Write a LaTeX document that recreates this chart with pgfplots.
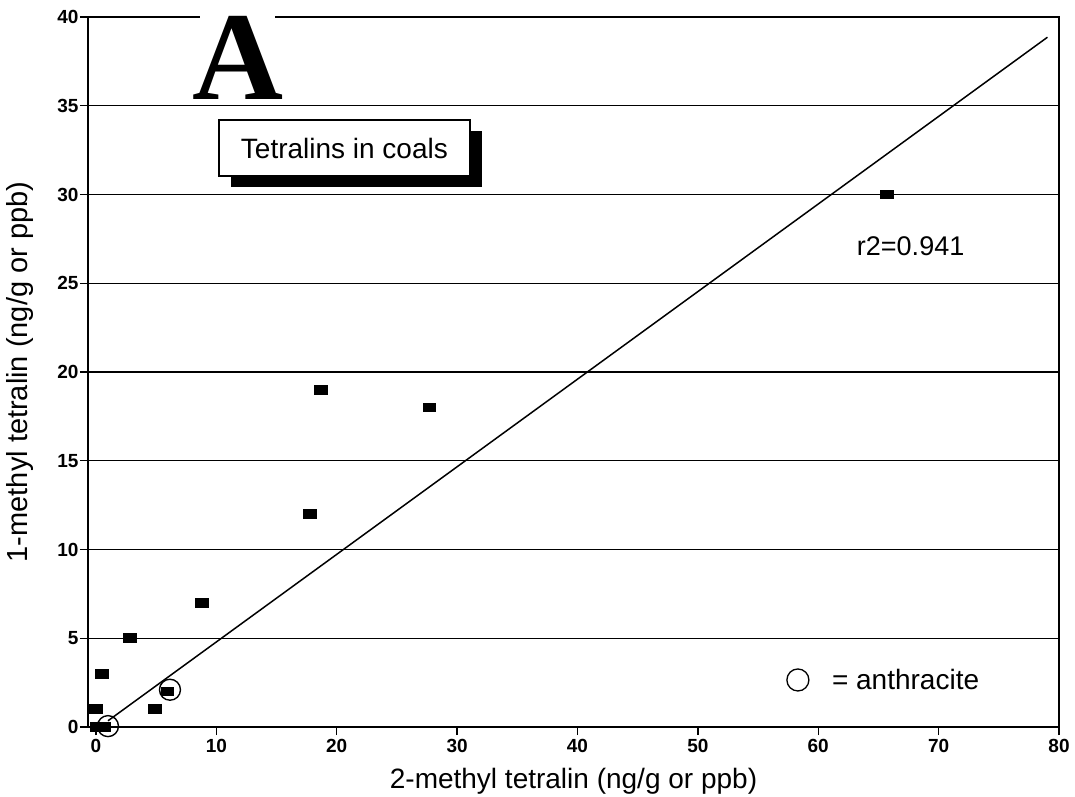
\documentclass[border=0pt]{standalone}
\usepackage{fontspec}
\setmainfont{Liberation Sans}
\newfontfamily\serifA{Liberation Serif}
\usepackage{pgfplots}
\pgfplotsset{compat=1.18}
\usetikzlibrary{shadows}

\begin{document}
\begin{tikzpicture}
\begin{axis}[
  at={(0,0)}, anchor=south west,
  scale only axis, width=971pt, height=710pt,
  xmin=-0.66, xmax=80, ymin=0, ymax=40,
  xtick={0,10,...,80}, ytick={0,5,...,40},
  tick pos=left, tick align=outside,
  major tick length=8pt,
  every tick/.style={black, line width=1.4pt},
  axis line style={line width=2pt},
  ymajorgrids, grid style={black, line width=1.4pt},
  xticklabel={\fontsize{19}{21}\selectfont\bfseries\pgfmathprintnumber[assume math mode=true]{\tick}},
  yticklabel={\fontsize{19}{21}\selectfont\bfseries\pgfmathprintnumber[assume math mode=true]{\tick}},
  yticklabel style={xshift=2pt},
  xticklabel style={yshift=-1pt},
  xlabel={2-methyl tetralin (ng/g or ppb)},
  ylabel={1-methyl tetralin (ng/g or ppb)},
  xlabel style={font=\fontsize{28}{28}\selectfont, at={(axis description cs:0.5,-0.0873)}, anchor=base},
  ylabel style={font=\fontsize{29}{29}\selectfont, at={(axis description cs:-0.0628,0.5)}, anchor=base},
  clip=false,
]
% regression line
\addplot[black, line width=1.5pt] coordinates {(1.0,0.35) (79.04,38.86)};
% samples
\addplot[only marks, mark=square*, mark size=4.3pt,
  mark options={xscale=1.48, fill=black, draw=black, line width=0pt}]
  coordinates {
  (0.1,0) (0.7,0) (0,1) (0.5,3) (2.8,5) (4.9,1) (5.95,2) (8.8,7)
  (17.8,12) (18.7,19) (27.7,18) (65.7,30)
};
% anthracite circles
\addplot[only marks, mark=o, mark size=10.5pt,
  mark options={line width=1.4pt, draw=black}]
  coordinates {(1.0,0.05) (6.15,2.1)};

\node[draw, fill=white, line width=1.8pt, minimum width=251pt, minimum height=56pt,
  inner sep=0pt, font=\fontsize{28}{28}\selectfont,
  drop shadow={shadow xshift=12pt, shadow yshift=-11pt, fill=black, opacity=1}]
  at (axis cs:20.64,32.62) {Tetralins in coals};
\node[anchor=base west, inner sep=0pt, font=\fontsize{27}{27}\selectfont]
  at (axis cs:63.2,26.54) {r2=0.941};
\node[circle, draw, line width=1.3pt, minimum size=22pt, inner sep=0pt]
  at (axis cs:58.31,2.65) {};
\node[anchor=base west, inner sep=0pt, font=\fontsize{28}{28}\selectfont]
  at (axis cs:61.13,2.085) {= anthracite};

\coordinate (gL) at (axis cs:8.64,40);
\coordinate (gR) at (axis cs:14.87,40);
\coordinate (Apos) at (axis cs:11.83,35.35);
\end{axis}
\fill[white] ([yshift=-2.5pt]gL) rectangle ([yshift=2.5pt]gR);
\node[anchor=base, inner sep=0pt, font=\serifA\fontsize{126}{126}\selectfont\bfseries] at (Apos) {A};
\pgfresetboundingbox
\path[use as bounding box] (-88pt,-69pt) rectangle (987pt,727pt);
\end{tikzpicture}
\end{document}
